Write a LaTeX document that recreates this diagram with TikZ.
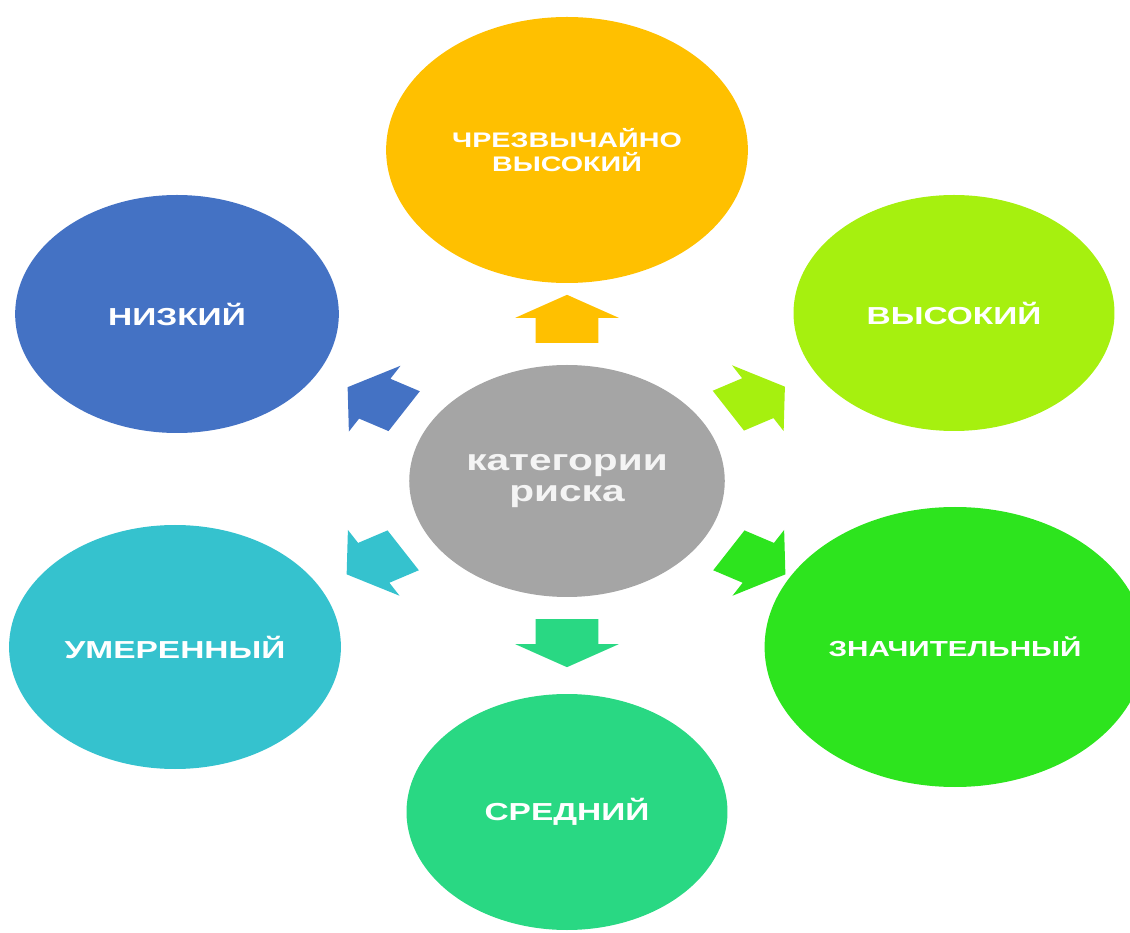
\documentclass[tikz,border=0pt]{standalone}
\usepackage{fontspec}
\setmainfont{Liberation Sans}
\usetikzlibrary{shapes.geometric,calc}

\definecolor{riskgray}{HTML}{A5A5A5}
\definecolor{riskyellow}{HTML}{FFC000}
\definecolor{riskblue}{HTML}{4472C4}
\definecolor{risklime}{HTML}{A6F00F}
\definecolor{riskteal}{HTML}{35C2CE}
\definecolor{riskgreen}{HTML}{2DE41E}
\definecolor{riskmint}{HTML}{29D883}
\definecolor{riskwhite}{HTML}{F4F4F4}

\tikzset{
  blob/.style={circle, inner sep=0pt, xscale=1.36, text=white, align=center,
    font=\bfseries\fontsize{14}{16}\selectfont},
}

\begin{document}
\begin{tikzpicture}
    \useasboundingbox (0,0) rectangle (22.6,18.64);
    \clip (0,0) rectangle (22.6,18.64);

    \node[blob, fill=riskgray, minimum size=4.64cm, text=riskwhite,
          font=\bfseries\fontsize{17}{18}\selectfont] (cat) at (11.34,9.02) {категории\\риска};
    \node[blob, fill=riskyellow, minimum size=5.32cm,
          font=\bfseries\fontsize{12}{13.7}\selectfont] (chrez) at (11.34,15.64) {ЧРЕЗВЫЧАЙНО\\ВЫСОКИЙ};
    \node[blob, fill=riskblue, minimum size=4.76cm] (nizk) at (3.54,12.36) {НИЗКИЙ};
    \node[blob, fill=risklime, minimum size=4.72cm] (vys) at (19.08,12.38) {ВЫСОКИЙ};
    \node[blob, fill=riskteal, minimum size=4.88cm] (umer) at (3.5,5.7) {УМЕРЕННЫЙ};
    \node[blob, fill=riskgreen, minimum size=5.6cm,
          font=\bfseries\fontsize{12.4}{15}\selectfont] (znach) at (19.1,5.7) {ЗНАЧИТЕЛЬНЫЙ};
    \node[blob, fill=riskmint, minimum size=4.72cm] (sred) at (11.34,2.4) {СРЕДНИЙ};

    % block arrows half way from the centre to each category
    \foreach \tgt/\ang/\col in {chrez/90/riskyellow, vys/30/risklime, znach/-30/riskgreen,
                                sred/-90/riskmint, umer/210/riskteal, nizk/150/riskblue}
        \fill[\col, shift={($(cat)!0.49!(\tgt)$)}, xscale=1.36, rotate=\ang]
            (-0.48,-0.46) -- (0.02,-0.46) -- (0.02,-0.76) -- (0.48,0)
            -- (0.02,0.76) -- (0.02,0.46) -- (-0.48,0.46) -- cycle;
\end{tikzpicture}
\end{document}
